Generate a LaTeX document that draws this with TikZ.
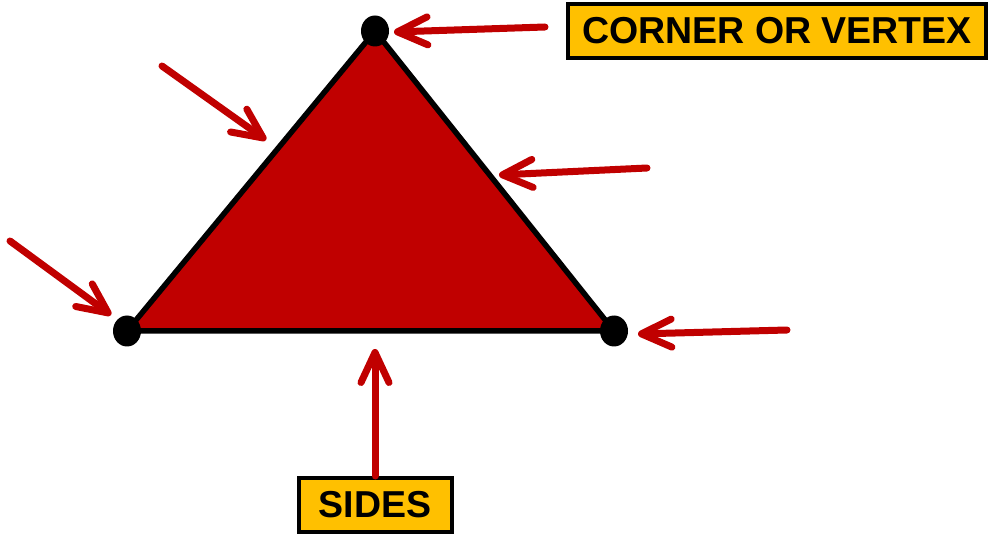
\documentclass[tikz,border=0pt]{standalone}
\usepackage{fontspec}
\setmainfont{Liberation Sans}
\usetikzlibrary{arrows.meta, shapes.geometric}
\definecolor{dunkelrot}{HTML}{C00000}
\definecolor{gelb}{HTML}{FFC000}

\begin{document}
\begin{tikzpicture}[x=1pt, y=-1pt,
				zeiger/.style={draw=dunkelrot, line width=7pt, line cap=round,
					-{Straight Barb[round, length=30pt, width=28pt]}},
				ecke/.style={ellipse, fill=black, minimum width=28pt, minimum height=31pt, inner sep=0pt},
				schild/.style={draw=black, line width=4pt, fill=gelb, inner sep=0pt,
					minimum height=54pt, font=\bfseries\fontsize{37.5}{40}\selectfont}]
				% Rahmen
				\useasboundingbox (0,0) rectangle (990,534);
				% Dreieck zeichnen
				\coordinate (A) at (375,31);
				\coordinate (B) at (127,331);
				\coordinate (C) at (614,331);
				\draw[fill=dunkelrot, line width=5.5pt, line join=round] (A) -- (B) -- (C) -- cycle;
				\node[ecke] (eA) at (A) {};
				\node[ecke] (eB) at (B) {};
				\node[ecke] (eC) at (C) {};
				% Beschriftungen
				\node[schild, minimum width=418pt] (ecken) at (777,31) {CORNER OR VERTEX};
				\node[schild, minimum width=153pt] (seiten) at (375,505) {SIDES};
				% Pfeile
				\coordinate (p1) at (162,66);   \coordinate (q1) at (266,140);
				\coordinate (p2) at (647,168);  \coordinate (q2) at (499,175);
				\coordinate (p3) at (10,241);   \coordinate (q3) at (111,315);
				\coordinate (p4) at (787,330);  \coordinate (q4) at (638,334);
				\coordinate (p5) at (545,27);   \coordinate (q5) at (394,32);
				\draw[zeiger] (p5) -- (q5);
				\draw[zeiger] (p1) -- (q1);
				\draw[zeiger] (p2) -- (q2);
				\draw[zeiger] (p3) -- (q3);
				\draw[zeiger] (p4) -- (q4);
				\draw[zeiger] (seiten.north) -- (375,349);
			\end{tikzpicture}
\end{document}
